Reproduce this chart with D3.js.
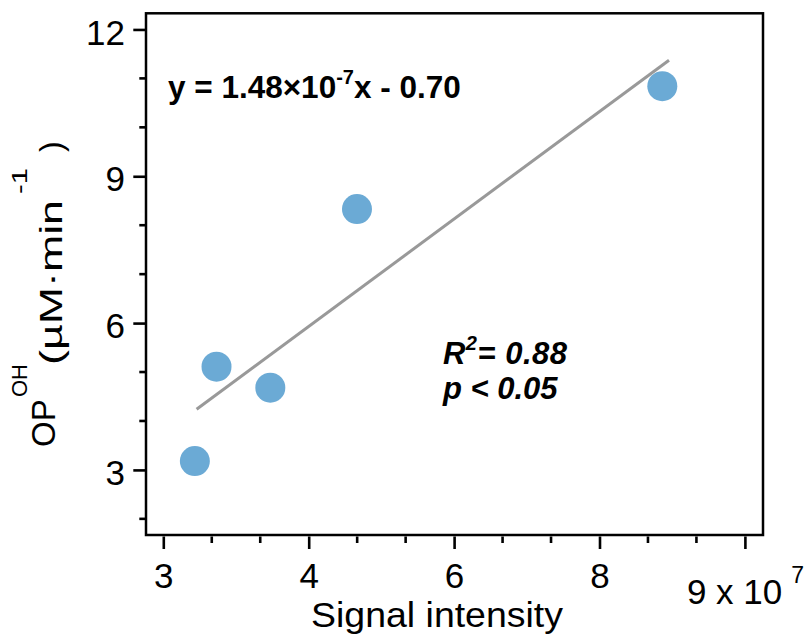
<!DOCTYPE html>
<html>
<head>
<meta charset="utf-8">
<script src="https://cdn.jsdelivr.net/npm/d3@7"></script>
<style>
  body { margin: 0; background: #fff; }
  svg { display: block; }
  text { font-family: "Liberation Sans", Arial, Helvetica, sans-serif; fill: #000; }
</style>
</head>
<body>
<svg id="chart" width="808" height="634"></svg>
<script>
// Signal intensity (x 10^7) against OP-OH (uM/min) for the five samples
const signalIntensity = [3.217, 3.366, 3.736, 4.664, 8.432];
const opOH            = [3.18, 5.11, 4.68, 8.33, 10.84];

// ends of the fitted regression line
const fitX = [3.229, 8.478];
const fitY = [4.24, 11.37];

// axis ticks
const xTickValues = [3, 4, 6, 8, 9];
const xTickLabels = ["3", "4", "6", "8", "9 x 10"];
const xTickExponent = "7";
const yTickValues = [3, 6, 9, 12];
const yMinorValues = [2, 3, 4, 5, 6, 7, 8, 9, 10, 11, 12];
const yDomain = [1.67, 12.33];

const svg = d3.select("#chart");
const FONT = '"Liberation Sans", Arial, sans-serif';

// plot frame
const frame = { left: 146, right: 763, top: 13.3, bottom: 535 };
const xStart = 163.3, xStep = 145.4;

// the x axis spaces its labelled ticks evenly
const x = d3.scaleLinear()
  .domain(xTickValues)
  .range(xTickValues.map((d, i) => xStart + i * xStep));
const y = d3.scaleLinear()
  .domain(yDomain)
  .range([frame.bottom, frame.top]);

const tickWidth = 2.6;

// x axis: major ticks with labels, two minor ticks per interval
const xAxis = svg.append("g")
  .attr("transform", `translate(0,${frame.bottom + 1.5})`)
  .call(d3.axisBottom(x)
    .tickValues(xTickValues)
    .tickSize(12.5)
    .tickFormat((d, i) => xTickLabels[i]));
xAxis.select(".domain").remove();
xAxis.selectAll(".tick line").attr("stroke", "#000").attr("stroke-width", tickWidth);
xAxis.selectAll(".tick text")
  .attr("y", 51.5).attr("dy", 0)
  .attr("font-size", 35)
  .style("font-family", FONT);

// last label carries the exponent and sits lower, to the side
const lastLabel = xAxis.selectAll(".tick text").filter((d, i) => i === xTickValues.length - 1);
lastLabel.attr("text-anchor", "start").attr("x", -58.5).attr("y", 67.5);
lastLabel.append("tspan")
  .attr("dy", -21).attr("dx", 9)
  .attr("font-size", 23)
  .text(xTickExponent);

const xMinor = [];
for (let i = 0; i < xTickValues.length - 1; i++) {
  const a = xTickValues[i], b = xTickValues[i + 1];
  for (let k = 1; k < 3; k++) xMinor.push(a + (b - a) * k / 3);
}
svg.append("g").selectAll("line").data(xMinor).join("line")
  .attr("x1", d => x(d)).attr("x2", d => x(d))
  .attr("y1", frame.bottom + 1.5).attr("y2", frame.bottom + 8)
  .attr("stroke", "#000").attr("stroke-width", tickWidth);

// y axis
const yAxis = svg.append("g")
  .attr("transform", `translate(${frame.left},0)`)
  .call(d3.axisLeft(y).tickValues(yTickValues).tickSize(12.7).tickPadding(8));
yAxis.select(".domain").remove();
yAxis.selectAll(".tick line").attr("stroke", "#000").attr("stroke-width", tickWidth);
yAxis.selectAll(".tick text")
  .attr("x", -21).attr("dy", "0.42em")
  .attr("font-size", 35)
  .style("font-family", FONT);

svg.append("g").selectAll("line").data(yMinorValues.filter(v => !yTickValues.includes(v))).join("line")
  .attr("x1", frame.left - 6.7).attr("x2", frame.left)
  .attr("y1", d => y(d)).attr("y2", d => y(d))
  .attr("stroke", "#000").attr("stroke-width", tickWidth);

// frame
svg.append("rect")
  .attr("x", frame.left).attr("y", frame.top)
  .attr("width", frame.right - frame.left)
  .attr("height", frame.bottom - frame.top)
  .attr("fill", "none").attr("stroke", "#000").attr("stroke-width", 2.5);

// regression line
svg.append("line")
  .attr("x1", x(fitX[0])).attr("y1", y(fitY[0]))
  .attr("x2", x(fitX[1])).attr("y2", y(fitY[1]))
  .attr("stroke", "#999999").attr("stroke-width", 3);

// samples
svg.append("g").selectAll("circle")
  .data(signalIntensity.map((v, i) => ({ x: v, y: opOH[i] })))
  .join("circle")
  .attr("cx", d => x(d.x)).attr("cy", d => y(d.y))
  .attr("r", 15)
  .attr("fill", "#6BAAD5");

// regression equation
const eq = svg.append("text")
  .attr("x", 168).attr("y", 98)
  .attr("font-size", 31.5).attr("font-weight", "bold");
eq.append("tspan").text("y = 1.48×10");
eq.append("tspan").attr("dy", -14).attr("font-size", 20).text("-7");
eq.append("tspan").attr("dy", 14).text("x - 0.70");

// fit statistics
const r2 = svg.append("text")
  .attr("x", 443).attr("y", 364)
  .attr("font-size", 31).attr("font-weight", "bold").attr("font-style", "italic")
  .attr("textLength", 124).attr("lengthAdjust", "spacing");
r2.append("tspan").text("R");
r2.append("tspan").attr("dy", -14).attr("font-size", 20).text("2");
r2.append("tspan").attr("dy", 14).text("= 0.88");

svg.append("text")
  .attr("x", 443).attr("y", 399)
  .attr("font-size", 31).attr("font-weight", "bold").attr("font-style", "italic")
  .text("p < 0.05");

// axis titles
svg.append("text")
  .attr("x", 437).attr("y", 627)
  .attr("text-anchor", "middle")
  .attr("font-size", 35)
  .attr("textLength", 252).attr("lengthAdjust", "spacingAndGlyphs")
  .text("Signal intensity");

// y title, built piece by piece along the rotated baseline
const yTitle = svg.append("g").attr("transform", "rotate(-90)");
const yPieces = [
  { text: "OP",       start: 447, base: 55, size: 33 },
  { text: "OH",       start: 397, base: 27, size: 22 },
  { text: "(µM·min",  start: 365, base: 62, size: 32, len: 165 },
  { text: "-1",       start: 194, base: 27, size: 22, len: 26 },
  { text: ")",        start: 152, base: 62, size: 32 }
];
yPieces.forEach(p => {
  const t = yTitle.append("text")
    .attr("x", -p.start).attr("y", p.base)
    .attr("font-size", p.size)
    .text(p.text);
  if (p.len) t.attr("textLength", p.len).attr("lengthAdjust", "spacingAndGlyphs");
});
</script>
</body>
</html>
